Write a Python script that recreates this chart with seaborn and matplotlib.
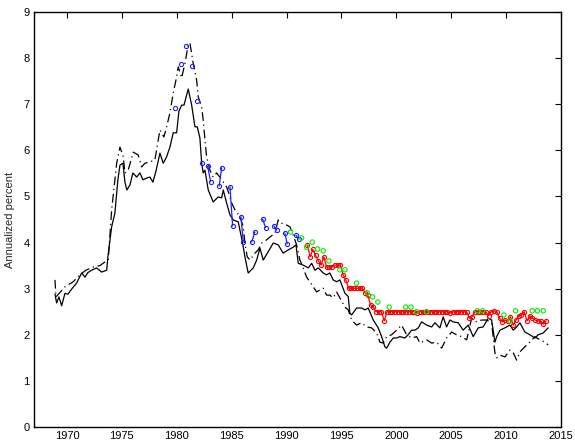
import numpy as np
import pandas as pd
import matplotlib
matplotlib.use("Agg")
import matplotlib.pyplot as plt
import seaborn as sns

# ---------------- data ----------------
solid_year = [1968.91, 1969.06, 1969.27, 1969.52, 1969.82, 1970.09, 1970.46, 1970.88, 1971.34, 1971.64,
              1971.91, 1972.25, 1972.70, 1973.16, 1973.62, 1973.73, 1974.07, 1974.37, 1974.64, 1974.83,
              1975.10, 1975.28, 1975.46, 1975.74, 1976.01, 1976.35, 1976.65, 1976.92, 1977.26, 1977.56,
              1977.83, 1978.11, 1978.47, 1978.77, 1979.08, 1979.38, 1979.68, 1979.99, 1980.20, 1980.45,
              1980.66, 1981.05, 1981.36, 1981.66, 1981.87, 1982.11, 1982.27, 1982.41, 1982.57, 1982.87,
              1983.32, 1983.78, 1984.09, 1984.24, 1984.54, 1984.85, 1985.15, 1985.60, 1985.76, 1986.00,
              1986.21, 1986.51, 1986.97, 1987.28, 1987.58, 1987.88, 1988.33, 1988.79, 1989.24, 1989.70,
              1990.15, 1990.61, 1990.86, 1991.07, 1991.52, 1991.98, 1992.29, 1992.59, 1992.89, 1993.34,
              1993.65, 1993.95, 1994.25, 1994.56, 1994.86, 1995.32, 1995.62, 1995.77, 1995.93, 1996.38,
              1996.84, 1997.14, 1997.44, 1997.90, 1998.35, 1998.66, 1998.96, 1999.12, 1999.42, 1999.72,
              2000.03, 2000.33, 2000.78, 2001.08, 2001.39, 2001.69, 2002.00, 2002.30, 2002.76, 2003.22,
              2003.52, 2003.97, 2004.27, 2004.58, 2004.88, 2005.18, 2005.64, 2006.09, 2006.55, 2007.00,
              2007.46, 2007.91, 2008.37, 2008.68, 2008.98, 2009.14, 2009.44, 2009.89, 2010.35, 2010.65,
              2010.96, 2011.26, 2011.71, 2012.17, 2012.62, 2012.92, 2013.38, 2013.83]
solid_val = [2.88, 2.69, 2.82, 2.63, 2.90, 2.88, 3.00, 3.12, 3.34, 3.25,
             3.35, 3.40, 3.45, 3.36, 3.40, 3.69, 4.34, 4.64, 5.36, 5.68,
             5.72, 5.31, 5.14, 5.25, 5.51, 5.42, 5.51, 5.36, 5.40, 5.42,
             5.31, 5.55, 5.94, 5.72, 5.86, 6.07, 6.38, 6.38, 6.85, 6.98,
             6.98, 7.33, 6.98, 6.51, 6.51, 6.27, 5.73, 5.51, 5.57, 5.14,
             4.88, 4.99, 4.97, 5.14, 4.86, 4.60, 4.49, 4.45, 4.27, 3.99,
             3.69, 3.34, 3.45, 3.62, 3.88, 3.62, 3.80, 3.99, 3.95, 3.77,
             3.84, 3.90, 3.95, 3.55, 3.51, 3.45, 3.55, 3.40, 3.45, 3.34,
             3.30, 3.34, 3.19, 3.15, 3.19, 2.90, 2.83, 2.47, 2.43, 2.58,
             2.58, 2.54, 2.58, 2.32, 2.15, 1.96, 1.74, 1.71, 1.84, 1.93,
             1.93, 1.96, 1.93, 2.00, 2.10, 2.10, 2.15, 2.28, 2.21, 2.17,
             2.26, 2.15, 2.39, 2.17, 2.32, 2.28, 2.26, 2.10, 2.21, 1.96,
             2.15, 2.17, 2.36, 2.32, 1.84, 1.96, 2.10, 2.15, 2.21, 2.10,
             2.17, 2.26, 2.06, 2.00, 1.93, 2.00, 2.04, 2.15]

dash_year = [1968.91, 1969.00, 1969.82, 1970.57, 1971.18, 1971.73, 1972.40, 1973.01, 1973.46, 1973.76,
             1974.07, 1974.53, 1974.83, 1975.13, 1975.28, 1975.58, 1976.04, 1976.49, 1976.80, 1977.10,
             1977.56, 1978.01, 1978.32, 1978.47, 1978.83, 1979.08, 1979.38, 1979.68, 1979.99, 1980.14,
             1980.45, 1980.75, 1981.05, 1981.20, 1981.50, 1981.81, 1981.96, 1982.27, 1982.41, 1982.57,
             1982.72, 1983.02, 1983.32, 1983.63, 1983.93, 1984.24, 1984.54, 1984.85, 1985.00, 1985.30,
             1985.76, 1986.06, 1986.21, 1986.42, 1986.67, 1987.12, 1987.42, 1987.73, 1988.19, 1988.49,
             1988.94, 1989.24, 1989.55, 1990.01, 1990.31, 1990.61, 1990.92, 1991.22, 1991.52, 1991.83,
             1992.13, 1992.43, 1992.74, 1993.04, 1993.34, 1993.65, 1993.95, 1994.25, 1994.56, 1994.86,
             1995.32, 1995.62, 1995.93, 1996.38, 1996.84, 1997.30, 1997.75, 1998.21, 1998.51, 1998.81,
             1999.12, 1999.57, 2000.03, 2000.48, 2000.94, 2001.39, 2001.85, 2002.15, 2002.76, 2003.22,
             2003.67, 2004.13, 2004.58, 2005.04, 2005.49, 2005.95, 2006.41, 2006.86, 2007.31, 2007.77,
             2008.22, 2008.68, 2008.98, 2009.14, 2009.44, 2009.89, 2010.35, 2010.65, 2010.96, 2011.26,
             2011.71, 2012.17, 2012.62, 2013.08, 2013.53, 2013.83]
dash_val = [3.19, 2.82, 3.04, 3.15, 3.30, 3.40, 3.47, 3.50, 3.58, 3.62,
            4.70, 5.72, 6.07, 5.86, 5.51, 5.57, 5.96, 5.90, 5.64, 5.72,
            5.75, 5.79, 6.23, 6.44, 6.29, 6.51, 6.81, 7.24, 7.59, 7.81,
            7.57, 7.89, 8.29, 8.33, 7.89, 7.53, 7.16, 6.94, 6.66, 6.23,
            5.86, 5.57, 5.42, 5.51, 5.42, 5.31, 5.21, 4.99, 4.86, 4.71,
            4.56, 4.34, 3.99, 3.69, 3.62, 3.77, 3.84, 3.99, 4.06, 4.12,
            4.20, 4.49, 4.42, 4.38, 4.34, 4.16, 3.95, 3.62, 3.45, 3.25,
            3.15, 3.04, 2.93, 2.97, 3.01, 2.86, 2.86, 2.80, 2.93, 2.80,
            2.60, 2.54, 2.32, 2.21, 2.26, 2.17, 2.15, 2.04, 1.84, 1.82,
            1.96, 2.00, 2.10, 2.21, 2.00, 1.93, 1.96, 1.82, 1.89, 1.82,
            1.84, 1.71, 1.93, 2.06, 2.00, 1.96, 1.89, 2.36, 2.28, 2.32,
            2.32, 2.26, 1.61, 1.50, 1.56, 1.52, 1.67, 1.61, 1.45, 1.63,
            1.74, 1.84, 1.96, 1.89, 1.84, 1.78]

blue_year = [1979.84, 1980.36, 1980.84, 1981.36, 1981.87, 1982.32,
             1982.81, 1983.09, 1983.87, 1984.09, 1984.85, 1985.09,
             1985.85, 1986.06, 1986.82, 1987.12, 1987.82, 1988.10,
             1988.85, 1989.10, 1989.85, 1990.06, 1990.86, 1991.10]
blue_val = [6.92, 7.87, 8.26, 7.83, 7.07, 5.72,
            5.66, 5.32, 5.23, 5.62, 5.21, 4.36,
            4.56, 4.01, 4.01, 4.23, 4.51, 4.32,
            4.36, 4.27, 4.21, 3.97, 4.16, 4.08]
blue_group = [0, 1, 2, 3, 4, 5,
              6, 6, 7, 7, 8, 8,
              9, 9, 10, 10, 11, 11,
              12, 12, 13, 13, 14, 14]

green_year = [1990.37, 1991.37, 1991.83, 1992.34, 1992.83, 1993.34, 1993.86, 1994.86, 1995.32,
              1996.38, 1997.35, 1997.84, 1998.32, 1999.35, 2000.85, 2001.33, 2001.85, 2002.76,
              2007.37, 2007.86, 2009.80, 2010.35, 2010.86, 2012.38, 2012.85, 2013.38]
green_val = [4.23, 4.10, 3.90, 4.01, 3.86, 3.82, 3.60, 3.41, 3.41,
             3.12, 2.91, 2.82, 2.71, 2.60, 2.60, 2.60, 2.50, 2.50,
             2.52, 2.52, 2.43, 2.30, 2.52, 2.52, 2.52, 2.52]

red_val = [3.95, 3.69, 3.85, 3.72,
           3.60, 3.51, 3.69, 3.47,
           3.47, 3.47, 3.51, 3.51,
           3.51, 3.30, 3.19, 3.01,
           3.01, 3.01, 3.01, 3.01,
           3.01, 2.91, 2.86, 2.65,
           2.60, 2.50, 2.50, 2.50,
           2.30, 2.50, 2.50, 2.50,
           2.50, 2.50, 2.50, 2.50,
           2.50, 2.50, 2.50, 2.50,
           2.47, 2.50, 2.50, 2.50,
           2.50, 2.50, 2.50, 2.50,
           2.50, 2.50, 2.50, 2.50,
           2.47, 2.50, 2.50, 2.50,
           2.50, 2.50, 2.50, 2.36,
           2.39, 2.50, 2.50, 2.50,
           2.50, 2.50, 2.41, 2.50,
           2.52, 2.50, 2.36, 2.28,
           2.32, 2.30, 2.39, 2.21,
           2.32, 2.41, 2.43, 2.50,
           2.30, 2.41, 2.36, 2.32,
           2.30, 2.30, 2.23, 2.30]
red_start = 1991.9  # first red observation, quarterly afterwards
red_year = list(red_start + 0.25 * np.arange(len(red_val)))

x_ticks = [1970, 1975, 1980, 1985, 1990, 1995, 2000, 2005, 2010, 2015]
y_ticks = [0, 1, 2, 3, 4, 5, 6, 7, 8, 9]
y_label = "Annualized percent"

# ---------------- plotting ----------------
sns.set_style("white")
plt.rcParams["font.family"] = ["Liberation Sans", "DejaVu Sans"]

W, H = 575, 443
fig = plt.figure(figsize=(W / 100, H / 100), dpi=100)
ax = fig.add_axes([34 / W, 1 - 427 / H, (561 - 34) / W, (427 - 12) / H])

sns.lineplot(x=solid_year, y=solid_val, ax=ax, color="black", lw=0.9, sort=False)
sns.lineplot(x=dash_year, y=dash_val, ax=ax, color="black", lw=0.9, sort=False,
             linestyle=(0, (7, 3, 1, 3)))

mk = dict(marker="o", markersize=3.0, markerfacecolor="none", markeredgewidth=0.8)

blue_df = pd.DataFrame({"year": blue_year, "val": blue_val, "grp": blue_group})
sns.lineplot(data=blue_df, x="year", y="val", units="grp", estimator=None, ax=ax,
             color="#2020ff", lw=0.9, markeredgecolor="#2020ff", sort=False, **mk)

red_df = pd.DataFrame({"year": red_year, "val": red_val})
sns.lineplot(data=red_df, x="year", y="val", ax=ax, color="#ff0000", lw=0.9,
             markeredgecolor="#ff0000", sort=False, **mk)

green_df = pd.DataFrame({"year": green_year, "val": green_val})
sns.scatterplot(data=green_df, x="year", y="val", ax=ax, marker="o", s=10,
                facecolors="none", edgecolor="#00ee00", linewidth=0.8, zorder=4)

ax.set_xlim(1967, 2015)
ax.set_ylim(0, 9)
ax.set_xticks(x_ticks)
ax.set_yticks(y_ticks)
ax.set_xlabel("")
ax.set_ylabel(y_label, fontsize=8, labelpad=6)
ax.tick_params(direction="in", length=4, width=0.8, top=True, right=True,
               labelsize=8, pad=3, colors="black")
for s in ax.spines.values():
    s.set_visible(True)
    s.set_color("black")
    s.set_linewidth(1.0)
if ax.get_legend() is not None:
    ax.get_legend().remove()

fig.savefig("out.png", dpi=100, facecolor="white")
